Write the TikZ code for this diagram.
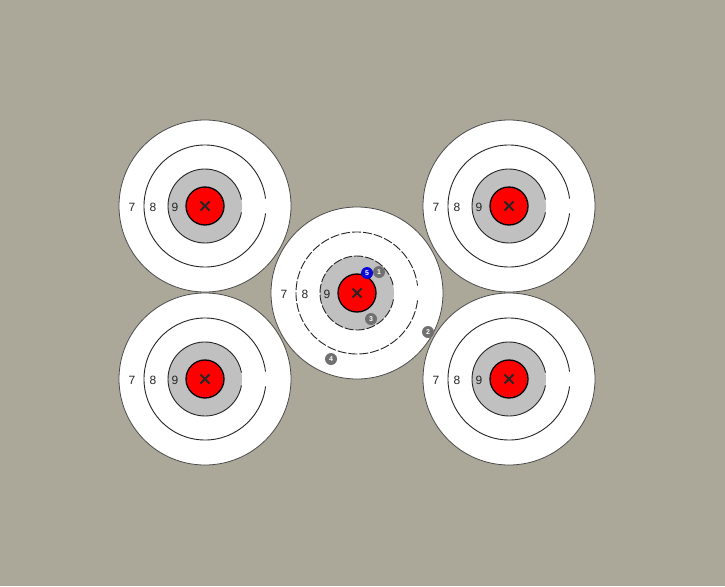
\documentclass[tikz,border=0pt]{standalone}
\usepackage{fontspec}
\setmainfont{Liberation Sans}
\definecolor{bgc}{RGB}{171,168,154}
\definecolor{silverc}{RGB}{192,192,192}
\definecolor{redc}{RGB}{255,0,0}
\definecolor{shotgrey}{RGB}{112,112,112}
\definecolor{shotblue}{RGB}{10,10,215}
\tikzset{
  ringline/.style={draw=black!85, line width=0.9pt},
  lbl/.style={inner sep=0pt, font=\fontsize{12}{12}\selectfont, text=black!85},
  shot/.style={circle, fill=shotgrey, text=white, inner sep=0pt, minimum size=12pt, font=\fontsize{7}{7}\selectfont\bfseries},
  blueshot/.style={shot, fill=shotblue}
}
\newcommand\mytarget[3]{%
  \begin{scope}[shift={(#2)}]
    \fill[white, draw=black!70, line width=0.8pt] (0,0) circle (86);
    \draw[ringline,#3] (7:61) arc (7:353:61);
    \fill[silverc] (0,0) circle (37);
    \draw[ringline,#3] (10:37) arc (10:350:37);
    \fill[redc, draw=black, line width=1.3pt] (0,0) circle (19);
    \draw[line width=1.8pt, black!85] (-4.5,-4.5) -- (4.5,4.5) (-4.5,4.5) -- (4.5,-4.5);
    \node[lbl] (#1-7) at (-73,1) {7};
    \node[lbl] (#1-8) at (-52,1) {8};
    \node[lbl] (#1-9) at (-30,1) {9};
  \end{scope}}
\begin{document}
\begin{tikzpicture}[x=1pt,y=-1pt]
\fill[bgc] (0,0) rectangle (725,586);
\useasboundingbox (0,0) rectangle (725,586);
\mytarget{tl}{205,206}{}
\mytarget{tr}{509,206}{}
\mytarget{bl}{205,379}{}
\mytarget{br}{509,379}{}
\mytarget{c}{357,293}{dash pattern=on 9pt off 2pt}
\node[shot] (s1) at (379,272) {1};
\node[blueshot] (s5) at (367,273) {5};
\node[shot] (s3) at (371,319) {3};
\node[shot] (s2) at (428,332) {2};
\node[shot] (s4) at (331,359) {4};
\end{tikzpicture}
\end{document}
